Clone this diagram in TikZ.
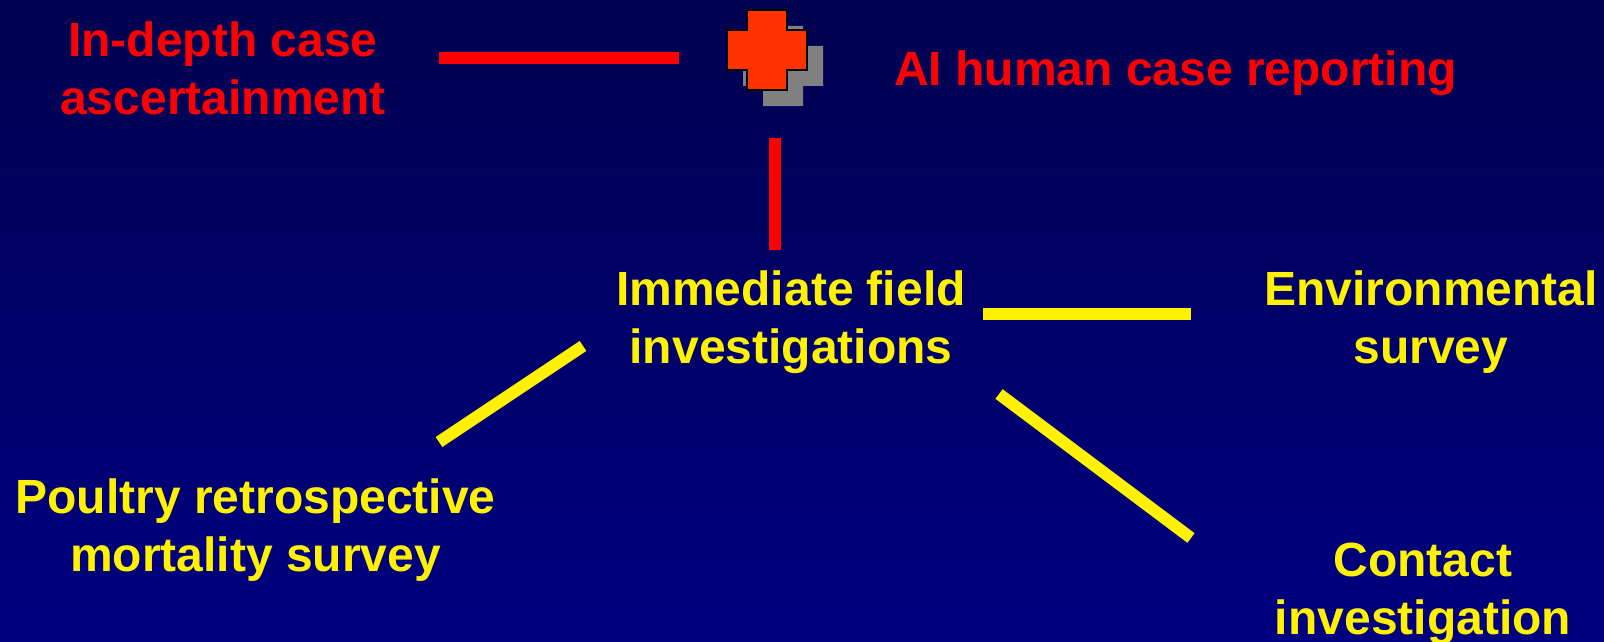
\documentclass[tikz,border=0pt]{standalone}
\usepackage{fontspec}
\setmainfont{Liberation Sans}
\definecolor{navytop}{RGB}{0,0,80}
\definecolor{navybot}{RGB}{0,0,128}
\definecolor{crossred}{RGB}{255,51,0}
\definecolor{shadowgray}{RGB}{128,128,128}
\tikzset{
  lab/.style={font=\fontsize{48}{58}\selectfont\bfseries, align=center, inner sep=0pt, anchor=base},
  redlab/.style={lab, text=red},
  yellab/.style={lab, text=yellow},
  redbar/.style={draw=red, line width=12pt},
  yelbar/.style={draw=yellow, line width=12pt},
}
\begin{document}
\begin{tikzpicture}[x=1pt,y=-1pt]
\useasboundingbox (0,0) rectangle (1604,642);
\shade[top color=navytop,bottom color=navybot,shading angle=0] (0,0) rectangle (1604,642);
% cross shadow
\fill[shadowgray] (763,26) -- (803,26) -- (803,46) -- (823,46) -- (823,86) -- (803,86) -- (803,106) -- (763,106) -- (763,86) -- (743,86) -- (743,46) -- (763,46) -- cycle;
% cross
\draw[fill=crossred,draw=black,line width=2pt] (747,10.5) -- (787,10.5) -- (787,30) -- (807,30) -- (807,70) -- (787,70) -- (787,90) -- (747,90) -- (747,70) -- (727,70) -- (727,30) -- (747,30) -- cycle;
\node[redlab] (indepth) at (223,114.5) {In-depth case\\ascertainment};
\node[redlab] (reporting) at (1175.5,85.5) {AI human case reporting};
\node[yellab] (immediate) at (791,363) {Immediate field\\investigations};
\node[yellab] (env) at (1431,363) {Environmental\\survey};
\node[yellab] (poultry) at (255.5,571) {Poultry retrospective\\mortality survey};
\node[yellab] (contact) at (1423,634) {Contact\\investigation};
\coordinate (r1a) at (439,58);
\coordinate (r1b) at (679,58);
\coordinate (r2a) at (775,138);
\coordinate (r2b) at (775,250);
\coordinate (y1a) at (983,314);
\coordinate (y1b) at (1191,314);
\coordinate (y2a) at (583,346);
\coordinate (y2b) at (439,442);
\coordinate (y3a) at (999,394);
\coordinate (y3b) at (1191,538);
\draw[redbar] (r1a) -- (r1b);
\draw[redbar] (r2a) -- (r2b);
\draw[yelbar] (y1a) -- (y1b);
\draw[yelbar] (y2a) -- (y2b);
\draw[yelbar] (y3a) -- (y3b);
\end{tikzpicture}
\end{document}
